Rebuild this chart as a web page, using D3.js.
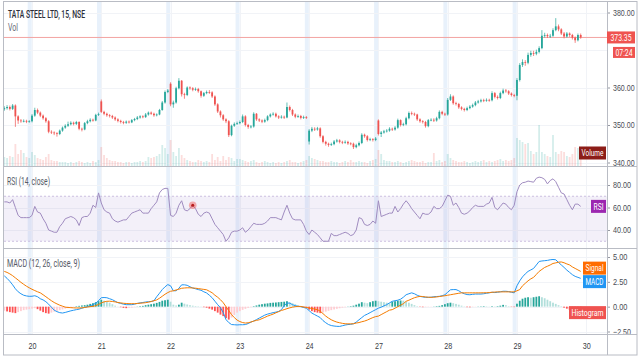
<!DOCTYPE html>
<html><head><meta charset="utf-8">
<script src="https://cdn.jsdelivr.net/npm/d3@7"></script>
<style>
html,body{margin:0;padding:0;background:#fff;}
svg{display:block;font-family:Roboto,"Noto Sans",sans-serif;}
</style></head><body>
<svg id="c" width="640" height="360"></svg>
<script>
const title = "TATA STEEL LTD, 15, NSE";
const dayLabels = ["20","21","22","23","24","27","28","29","30"];
const dayStart = [10,35,60,85,110,135,160,185,210];
const opens = [
354.2,354.5,354.8,354.3,355.2,352.3,351.2,351.0,351.1,350.9,
351.0,352.5,354.0,353.3,352.5,351.8,351.0,348.2,348.0,347.8,
347.6,348.5,349.3,349.8,350.2,350.6,350.3,350.8,349.0,348.8,
350.5,351.0,351.4,351.2,352.7,356.3,353.5,353.0,352.6,352.4,
352.0,351.5,351.1,350.8,350.6,350.9,350.7,351.3,351.6,352.0,
352.3,352.1,352.8,353.3,353.0,352.6,352.8,354.0,356.0,358.8,
361.0,355.5,356.0,359.8,361.8,358.2,358.0,360.0,359.8,359.4,
359.6,359.0,357.8,358.5,358.8,358.7,357.6,355.5,353.6,352.6,
351.5,351.0,347.3,349.8,350.3,350.5,350.8,352.3,350.0,349.5,
349.6,353.0,351.5,351.2,350.9,351.3,352.3,352.8,353.0,352.3,
352.0,352.2,352.0,354.8,354.0,352.8,352.2,352.4,351.9,352.1,
345.6,348.5,349.0,348.8,349.1,347.0,345.5,345.0,344.7,344.9,
345.6,345.9,345.5,345.3,345.5,345.1,345.0,344.1,344.6,345.2,
347.4,347.0,346.0,346.2,346.0,351.2,347.6,348.0,348.3,348.5,
349.0,348.8,349.3,351.3,350.0,350.2,351.8,353.2,353.0,352.8,
351.5,351.0,350.8,349.7,351.3,351.4,351.2,351.8,353.5,353.0,
352.8,356.7,357.6,355.8,355.6,354.7,354.3,354.0,354.5,354.9,
355.3,356.0,356.3,356.6,356.5,356.7,356.6,358.5,357.5,357.2,
358.5,359.2,359.0,358.4,358.0,357.8,362.0,366.0,366.8,366.6,
368.7,369.2,369.0,369.5,370.5,373.8,374.0,373.7,373.8,375.3,
376.3,375.5,374.4,373.6,374.4,374.0,373.3,372.6,374.0];
const highs = [
355.0,355.3,355.2,355.6,355.5,352.6,351.6,351.5,351.4,351.3,
352.9,354.6,354.4,353.6,352.8,352.1,351.3,348.6,348.3,348.1,
348.8,349.6,350.2,350.9,351.0,350.9,351.1,351.0,349.3,350.8,
351.4,351.8,351.7,353.0,353.3,356.8,353.8,353.3,352.9,352.7,
352.3,351.8,351.4,351.1,351.2,351.2,351.6,351.9,352.4,352.6,
352.6,353.2,353.6,353.6,353.3,353.1,354.3,356.4,359.2,359.6,
361.4,356.5,360.2,362.5,362.0,358.6,360.3,360.3,360.1,360.0,
359.9,359.2,358.8,359.2,359.3,359.0,357.9,355.8,353.9,352.9,
351.8,351.3,350.1,350.7,350.9,351.2,352.8,352.6,350.3,350.0,
353.4,353.2,351.8,351.5,351.7,352.6,353.1,353.4,353.3,352.6,
352.6,352.5,356.0,355.2,354.3,353.1,352.8,352.7,352.5,352.4,
348.9,349.5,349.4,349.5,349.4,347.3,345.8,345.3,345.3,346.0,
346.3,346.2,345.8,345.9,345.8,345.4,345.3,345.0,345.6,347.8,
347.7,347.3,346.6,346.5,346.8,351.5,348.4,348.7,348.9,349.4,
349.3,349.7,351.7,351.5,350.6,352.2,353.6,353.6,353.3,353.0,
351.8,351.3,351.1,351.6,351.8,351.8,352.2,353.9,353.8,353.3,
357.2,358.2,357.9,356.2,355.9,355.0,354.6,354.9,355.3,355.7,
356.4,356.7,357.0,357.0,357.1,357.0,359.0,358.8,357.9,358.9,
359.7,359.6,359.3,358.7,358.3,362.5,366.5,367.5,367.3,369.3,
369.8,369.8,370.1,371.0,375.3,374.6,374.4,374.3,375.8,378.5,
376.8,375.8,374.8,374.8,374.7,374.3,373.6,374.4,374.4];
const lows = [
353.8,354.1,353.9,354.0,349.5,350.3,350.6,350.7,350.5,350.6,
350.7,352.2,352.9,352.1,351.4,350.6,347.8,347.6,347.3,346.9,
347.3,348.2,349.0,349.5,349.9,349.9,350.0,348.6,348.3,348.6,
350.2,350.7,350.9,351.0,352.4,353.2,352.6,352.2,352.0,351.6,
351.1,350.7,350.4,350.2,350.3,350.4,350.5,351.0,351.3,351.7,
351.8,351.9,352.5,352.7,352.2,352.3,352.6,353.8,355.7,358.5,
355.0,354.6,355.7,359.5,357.6,357.0,357.7,359.4,359.0,359.1,
358.6,357.3,357.5,358.2,358.3,357.2,355.1,353.2,352.0,351.1,
350.5,346.8,347.0,349.5,350.0,350.2,350.5,349.6,349.0,349.1,
349.3,351.1,350.8,350.5,350.6,351.0,352.0,352.5,352.0,351.6,
351.7,351.6,351.8,353.6,352.4,351.8,351.9,351.5,351.6,351.6,
344.8,348.1,348.4,348.5,346.6,345.1,344.5,344.2,344.4,344.6,
345.3,345.1,344.9,345.0,344.7,344.6,343.6,343.8,344.3,344.9,
346.6,345.6,345.7,345.6,345.7,347.2,346.8,347.7,348.0,348.2,
348.4,348.5,349.0,349.6,349.7,349.9,351.5,352.6,352.4,351.1,
350.6,350.4,349.3,349.4,351.0,350.8,350.9,351.5,352.6,352.4,
352.5,356.4,355.4,355.2,354.3,353.9,353.6,353.7,354.2,354.6,
355.0,355.7,356.0,356.1,356.2,356.2,356.3,357.1,356.8,356.9,
358.2,358.6,358.0,357.6,357.4,356.6,361.6,365.5,365.8,366.2,
368.2,368.4,368.6,369.1,370.2,373.3,373.2,373.2,373.5,375.0,
375.0,374.0,373.1,373.3,373.5,372.8,371.9,372.3,373.0];
const closes = [
354.5,354.8,354.3,355.2,352.3,351.2,351.0,351.1,350.9,351.0,
352.5,354.0,353.3,352.5,351.8,351.0,348.2,348.0,347.8,347.6,
348.5,349.3,349.8,350.2,350.6,350.3,350.8,349.0,348.8,350.5,
351.0,351.4,351.2,352.7,352.9,353.5,353.0,352.6,352.4,352.0,
351.5,351.1,350.8,350.6,350.9,350.7,351.3,351.6,352.0,352.3,
352.1,352.8,353.3,353.0,352.6,352.8,354.0,356.0,358.8,359.2,
355.5,356.0,359.8,361.8,358.2,358.0,360.0,359.8,359.4,359.6,
359.0,357.8,358.5,358.8,358.7,357.6,355.5,353.6,352.6,351.5,
351.0,347.3,349.8,350.3,350.5,350.8,352.3,350.0,349.5,349.6,
353.0,351.5,351.2,350.9,351.3,352.3,352.8,353.0,352.3,352.0,
352.2,352.0,354.8,354.0,352.8,352.2,352.4,351.9,352.1,352.0,
348.5,349.0,348.8,349.1,347.0,345.5,345.0,344.7,344.9,345.6,
345.9,345.5,345.3,345.5,345.1,345.0,344.1,344.6,345.2,347.4,
347.0,346.0,346.2,346.0,346.4,347.6,348.0,348.3,348.5,349.0,
348.8,349.3,351.3,350.0,350.2,351.8,353.2,353.0,352.8,351.5,
351.0,350.8,349.7,351.3,351.4,351.2,351.8,353.5,353.0,352.8,
356.7,357.6,355.8,355.6,354.7,354.3,354.0,354.5,354.9,355.3,
356.0,356.3,356.6,356.5,356.7,356.6,358.5,357.5,357.2,358.5,
359.2,359.0,358.4,358.0,357.8,362.0,366.0,366.8,366.6,368.7,
369.2,369.0,369.5,370.5,373.8,374.0,373.7,373.8,375.3,376.3,
375.5,374.4,373.6,374.4,374.0,373.3,372.6,374.0,373.35];
const volumes = [
9,8,10,9,22,12,16,13,9,8,
14,11,8,7,6,9,12,6,5,5,
4,4,4,3,4,3,4,5,4,3,
4,3,5,4,6,19,11,8,6,5,
5,4,4,3,4,4,3,4,4,5,
4,5,9,8,9,10,12,21,18,12,
26,14,10,18,11,8,6,5,4,4,
6,5,4,5,4,12,6,9,5,10,
6,9,8,5,7,7,6,5,4,5,
6,4,3,4,5,4,3,4,3,4,
3,4,5,6,4,4,3,4,5,6,
10,8,7,6,5,5,4,4,5,4,
4,3,4,5,4,6,4,4,5,4,
4,3,5,6,7,16,12,6,5,5,
4,4,5,4,3,4,5,6,5,4,
4,5,3,4,4,13,5,6,4,5,
12,8,6,5,4,4,5,4,3,4,
5,4,5,6,4,5,4,5,6,7,
5,6,5,6,8,28,26,24,22,23,
15,12,14,41,14,12,10,9,31,14,
12,15,14,10,9,12,19,18,17];
const rsi = [
65,65,64,67,60,53,51,51,51,51,
53,61,56,55,50,46,40,39,38,38,
43,46,50,51,52,51,49,44,51,52,
52,55,62,60,73,64,58,56,55,50,
48,47,48,49,49,52,55,56,57,58,
55,55,55,59,62,65,73,76,77,77,
53,52,55,62,66,58,57,59,62,59,
54,52,55,56,55,50,45,42,39,36,
30,33,38,39,39,40,42,38,40,43,
46,45,45,45,46,48,51,51,51,50,
49,56,62,55,50,49,49,49,45,39,
36,40,38,36,33,30,30,30,37,35,
35,36,37,38,37,35,36,40,51,50,
45,44,45,48,46,66,52,53,54,55,
55,61,56,59,63,66,63,59,56,53,
50,55,54,54,56,61,59,59,61,66,
71,70,62,64,60,55,54,55,57,60,
62,61,61,61,63,64,69,60,58,61,
64,63,60,58,62,74,80,82,82.5,83.5,
83,82.5,86,87,86.5,85,81,84,85.5,83,
78,73,72,67,62,58,63,63,61];
const macd = [
3.1,2.85,2.55,2.2,1.8,1.5,1.3,1.15,1.08,1.04,
1.05,1.1,1.0,0.8,0.68,0.5,0.25,-0.05,-0.35,-0.5,
-0.6,-0.64,-0.58,-0.5,-0.42,-0.36,-0.3,-0.25,-0.15,-0.08,
0.0,0.08,0.2,0.35,0.6,0.9,0.92,0.9,0.8,0.7,
0.55,0.4,0.33,0.25,0.2,0.2,0.2,0.25,0.33,0.38,
0.42,0.47,0.5,0.52,0.6,1.0,1.35,1.72,2.0,2.22,
2.1,1.6,1.6,1.85,2.2,2.2,2.15,2.0,1.88,1.8,
1.72,1.65,1.5,1.38,1.15,0.9,0.55,0.2,-0.1,-0.6,
-1.3,-1.6,-1.8,-1.82,-1.84,-1.82,-1.82,-1.8,-1.7,-1.55,
-1.45,-1.3,-1.15,-1.0,-0.85,-0.75,-0.68,-0.6,-0.55,-0.48,
-0.3,0.1,0.37,0.35,0.2,0.1,0.04,0.0,-0.08,-0.15,
-0.4,-0.65,-0.8,-0.95,-1.1,-1.4,-1.62,-1.8,-1.9,-1.95,
-1.98,-1.99,-1.92,-1.85,-1.8,-1.78,-1.72,-1.55,-1.32,-1.1,
-0.88,-0.75,-0.6,-0.45,-0.3,-0.15,-0.05,0.08,0.2,0.38,
0.54,0.6,0.65,0.75,0.95,1.2,1.3,1.39,1.3,1.15,
1.04,0.98,0.94,0.94,0.95,1.0,1.02,1.04,1.1,1.2,
1.45,1.7,1.72,1.72,1.6,1.42,1.3,1.22,1.2,1.24,
1.27,1.27,1.27,1.3,1.35,1.39,1.45,1.42,1.45,1.5,
1.55,1.55,1.52,1.45,1.39,2.1,2.6,3.0,3.3,3.55,
3.7,3.85,4.2,4.55,4.6,4.63,4.66,4.72,4.75,4.72,
4.45,4.2,3.95,3.68,3.45,3.22,3.05,2.95,2.85];
const signal = [
3.55,3.45,3.3,3.12,2.9,2.68,2.45,2.25,2.06,1.9,
1.75,1.62,1.5,1.39,1.2,1.0,0.8,0.6,0.42,0.28,
0.15,0.05,-0.05,-0.08,-0.1,-0.12,-0.13,-0.13,-0.12,-0.08,
-0.04,0.0,0.03,0.1,0.22,0.38,0.48,0.54,0.55,0.52,
0.48,0.42,0.38,0.34,0.32,0.3,0.3,0.3,0.32,0.35,
0.37,0.4,0.45,0.52,0.6,0.68,0.85,1.05,1.25,1.42,
1.55,1.6,1.68,1.76,1.85,1.88,1.9,1.9,1.88,1.86,
1.82,1.78,1.74,1.7,1.55,1.4,1.15,0.95,0.7,0.4,
0.0,-0.4,-0.8,-1.1,-1.35,-1.5,-1.6,-1.65,-1.62,-1.55,
-1.45,-1.38,-1.32,-1.2,-1.08,-0.95,-0.85,-0.75,-0.62,-0.5,
-0.38,-0.3,-0.2,-0.12,-0.05,0.0,0.03,0.02,-0.03,-0.08,
-0.13,-0.18,-0.25,-0.3,-0.45,-0.7,-0.95,-1.15,-1.32,-1.45,
-1.55,-1.62,-1.68,-1.72,-1.73,-1.73,-1.72,-1.65,-1.6,-1.52,
-1.45,-1.35,-1.22,-1.1,-1.0,-0.95,-0.8,-0.65,-0.5,-0.35,
-0.3,-0.15,0.0,0.15,0.3,0.54,0.65,0.78,0.9,0.98,
1.04,1.02,0.98,0.95,0.94,0.95,0.98,1.02,1.06,1.1,
1.15,1.2,1.25,1.3,1.35,1.39,1.39,1.39,1.39,1.39,
1.39,1.39,1.39,1.4,1.4,1.42,1.45,1.47,1.49,1.49,
1.49,1.49,1.49,1.49,1.49,1.6,1.72,2.1,2.35,2.6,
2.8,2.95,3.25,3.55,3.75,3.95,4.07,4.2,4.35,4.41,
4.48,4.5,4.42,4.3,4.2,4.0,3.85,3.7,3.55];
const histogram = [
-0.4,-0.48,-0.55,-0.6,-0.65,-0.55,-0.45,-0.35,-0.3,-0.25,
-0.2,-0.15,-0.25,-0.4,-0.55,-0.65,-0.7,-0.6,-0.5,-0.42,
-0.35,-0.28,-0.2,-0.15,-0.1,-0.05,0.05,0.08,0.12,0.15,
0.2,0.28,0.35,0.45,0.55,0.7,0.6,0.5,0.4,0.25,
0.1,0.02,-0.05,-0.12,-0.15,-0.12,-0.1,-0.05,0.02,0.05,
0.08,0.15,0.2,0.25,0.3,0.38,0.48,0.6,0.65,0.7,
0.5,0.2,0.12,0.2,0.4,0.3,0.22,0.15,0.1,0.06,
0.04,0.02,-0.05,-0.1,-0.2,-0.3,-0.45,-0.6,-0.8,-0.95,
-1.15,-1.3,-1.1,-0.85,-0.6,-0.45,-0.32,-0.22,-0.12,-0.05,
0.05,0.12,0.2,0.25,0.3,0.33,0.38,0.4,0.42,0.45,
0.48,0.5,0.55,0.45,0.35,0.25,0.12,0.03,-0.08,-0.15,
-0.3,-0.45,-0.55,-0.6,-0.65,-0.58,-0.5,-0.42,-0.35,-0.28,
-0.22,-0.16,-0.1,-0.06,0.02,0.05,0.1,0.2,0.3,0.45,
0.4,0.35,0.45,0.55,0.6,0.55,0.5,0.45,0.4,0.35,
0.5,0.55,0.6,0.62,0.6,0.5,0.4,0.28,0.15,0.05,
-0.03,-0.05,-0.04,-0.03,-0.02,0.02,0.05,0.08,0.15,0.25,
0.35,0.4,0.35,0.28,0.2,0.1,0.03,-0.05,-0.06,-0.04,
-0.02,0.02,0.03,0.05,0.04,0.02,0.05,0.03,0.05,0.1,
0.18,0.15,0.05,-0.03,-0.05,0.3,0.6,0.8,0.9,0.95,
0.9,0.95,1.0,1.05,0.95,0.85,0.7,0.55,0.4,0.28,
0.15,0.05,-0.1,-0.2,-0.3,-0.4,-0.5,-0.55,-0.6];
const priceTicks = [340,350,360,370,380];
const priceLabelTicks = [340,350,360,380];
const rsiTicks = [40,60,80];
const rsiBandLevels = [70,30];
const macdTicks = [-2.5,0,2.5,5];
const lastPrice = 373.35;
const countdown = "07:24";
const rsiMarkerIndex = 68;

const svg = d3.select("#c");
const plotL = 4, plotR = 607, frameR = 637, frameB = 355;
const panes = {price:[2,166], rsi:[167,248], macd:[249,334]};
const n = closes.length;
const x = d3.scaleLinear().domain([0, n-1]).range([4.3, 580.7]);
const yP = d3.scaleLinear().domain([340,380]).range([162.5,12.5]);
const yV = d3.scaleLinear().domain([0, d3.max(volumes)]).range([166, 125]);
const yR = d3.scaleLinear().domain([40,80]).range([230,185]);
const yM = d3.scaleLinear().domain([-2.5,5]).range([331.5,257]);
const PX_PER_CHAR = 3.6;

const defs = svg.append("defs");
Object.entries(panes).forEach(([k,[t,b]])=>{
  defs.append("clipPath").attr("id","clip-"+k).append("rect")
    .attr("x",plotL).attr("y",t).attr("width",plotR-plotL).attr("height",b-t);
  defs.append("clipPath").attr("id","clipax-"+k).append("rect")
    .attr("x",plotR).attr("y",t).attr("width",frameR-plotR).attr("height",b-t+1);
});

// session break bands
svg.append("g").selectAll("rect").data(dayStart.filter(d=>d<n)).join("rect")
  .attr("x",d=>x(d)-4.3).attr("y",2).attr("width",4).attr("height",332)
  .attr("fill","#e8f1fb");

// grid
const grid = svg.append("g").attr("stroke","#f1f3f7").attr("stroke-width",1);
grid.selectAll(".gp").data(priceTicks).join("line").attr("x1",plotL).attr("x2",plotR)
  .attr("y1",d=>Math.round(yP(d))+0.5).attr("y2",d=>Math.round(yP(d))+0.5);
grid.selectAll(".gr").data(rsiTicks).join("line").attr("x1",plotL).attr("x2",plotR)
  .attr("y1",d=>Math.round(yR(d))+0.5).attr("y2",d=>Math.round(yR(d))+0.5);
grid.selectAll(".gm").data(macdTicks).join("line").attr("x1",plotL).attr("x2",plotR)
  .attr("y1",d=>Math.round(yM(d))+0.5).attr("y2",d=>Math.round(yM(d))+0.5);
grid.selectAll(".gv").data(dayStart).join("line")
  .attr("x1",d=>Math.round(x(d))+0.5).attr("x2",d=>Math.round(x(d))+0.5).attr("y1",2).attr("y2",334);

// ---- price pane
const gP = svg.append("g").attr("clip-path","url(#clip-price)");
const idx = d3.range(n);
gP.append("g").selectAll("rect").data(idx).join("rect")
  .attr("x",i=>x(i)-0.9).attr("width",1.8)
  .attr("y",i=>yV(volumes[i])).attr("height",i=>yV(0)-yV(volumes[i]))
  .attr("fill",i=>closes[i]>=opens[i]?"rgba(38,166,154,0.2)":"rgba(239,83,80,0.2)");
gP.append("line").attr("x1",plotL).attr("x2",plotR)
  .attr("y1",yP(lastPrice)).attr("y2",yP(lastPrice)).attr("stroke","#f3a3a1").attr("stroke-width",1);
const up = "#26a69a", dn = "#ef5350";
gP.append("g").selectAll("line").data(idx).join("line")
  .attr("x1",i=>x(i)).attr("x2",i=>x(i)).attr("y1",i=>yP(highs[i])).attr("y2",i=>yP(lows[i]))
  .attr("stroke",i=>closes[i]>=opens[i]?up:dn).attr("stroke-width",0.7);
gP.append("g").selectAll("rect").data(idx).join("rect")
  .attr("x",i=>x(i)-0.9).attr("width",1.8)
  .attr("y",i=>yP(Math.max(opens[i],closes[i])))
  .attr("height",i=>Math.max(0.8,Math.abs(yP(opens[i])-yP(closes[i]))))
  .attr("fill",i=>closes[i]>=opens[i]?up:dn);

// ---- RSI pane
const gR = svg.append("g").attr("clip-path","url(#clip-rsi)");
gR.append("rect").attr("x",plotL).attr("width",plotR-plotL)
  .attr("y",yR(rsiBandLevels[0])).attr("height",yR(rsiBandLevels[1])-yR(rsiBandLevels[0]))
  .attr("fill","rgba(126,87,194,0.09)");
gR.selectAll(".bl").data(rsiBandLevels).join("line").attr("x1",plotL).attr("x2",plotR)
  .attr("y1",d=>yR(d)).attr("y2",d=>yR(d)).attr("stroke","#cbbfe0").attr("stroke-dasharray","2,2");
gR.append("path").datum(idx).attr("fill","none").attr("stroke","#a08cc0").attr("stroke-width",1)
  .attr("d",d3.line().x(i=>x(i)).y(i=>yR(rsi[i])));
gR.append("circle").attr("cx",x(rsiMarkerIndex)).attr("cy",yR(rsi[rsiMarkerIndex])).attr("r",3.8)
  .attr("fill","rgba(239,83,80,0.45)");
gR.append("circle").attr("cx",x(rsiMarkerIndex)).attr("cy",yR(rsi[rsiMarkerIndex])).attr("r",1.5)
  .attr("fill","#b71c1c");

// ---- MACD pane
const gM = svg.append("g").attr("clip-path","url(#clip-macd)");
function histColor(i){
  const v = histogram[i], p = i>0 ? histogram[i-1] : v;
  if (v >= 0) return v > p ? "#26a69a" : "#b2dfdb";
  return v < p ? "#ff5252" : "#ffcdd2";
}
gM.append("g").selectAll("rect").data(idx).join("rect")
  .attr("x",i=>x(i)-0.9).attr("width",1.8)
  .attr("y",i=>Math.min(yM(0),yM(histogram[i])))
  .attr("height",i=>Math.abs(yM(histogram[i])-yM(0)))
  .attr("fill",histColor);
gM.append("path").datum(idx).attr("fill","none").attr("stroke","#2196f3").attr("stroke-width",1)
  .attr("d",d3.line().x(i=>x(i)).y(i=>yM(macd[i])));
gM.append("path").datum(idx).attr("fill","none").attr("stroke","#f57c00").attr("stroke-width",1)
  .attr("d",d3.line().x(i=>x(i)).y(i=>yM(signal[i])));

// ---- axes
function fit(sel, k){ sel.each(function(){ const t=this.textContent; d3.select(this)
  .attr("textLength", t.length*k).attr("lengthAdjust","spacingAndGlyphs"); }); }
function styleAxis(g){
  g.select(".domain").remove();
  g.selectAll(".tick line").attr("stroke","#9598a1");
  g.selectAll(".tick text").attr("fill","#4a4d55").style("font-size","9px").call(fit, PX_PER_CHAR);
}
function rightAxis(scale, ticks, pane){
  svg.append("g").attr("clip-path",`url(#clipax-${pane})`)
    .append("g").attr("transform",`translate(${plotR},0)`)
    .call(d3.axisRight(scale).tickValues(ticks).tickFormat(d3.format(".2f")).tickSize(3).tickPadding(3))
    .call(styleAxis);
}
rightAxis(yP, priceLabelTicks, "price");
rightAxis(yR, rsiTicks, "rsi");
rightAxis(yM, macdTicks, "macd");
svg.append("g").attr("transform","translate(0,334)")
  .call(d3.axisBottom(x).tickValues(dayStart).tickFormat((d,i)=>dayLabels[i]).tickSize(0).tickPadding(9))
  .call(g=>{g.select(".domain").remove();
    g.selectAll("text").attr("fill","#3a3d45").style("font-size","9px").call(fit, 4);});

// ---- frame and separators
const frame = svg.append("g").attr("stroke","#b9bcc4").attr("stroke-width",1).attr("fill","none");
frame.append("rect").attr("x",3.5).attr("y",1.5).attr("width",frameR-3.5).attr("height",frameB-1.5);
[166.5,248.5,334.5].forEach(yy=>frame.append("line").attr("x1",3.5).attr("x2",frameR).attr("y1",yy).attr("y2",yy));
frame.append("line").attr("x1",plotR+0.5).attr("x2",plotR+0.5).attr("y1",1.5).attr("y2",frameB);

// ---- labels / badges
function badge(right, cy, w, h, fill, txt, tw){
  svg.append("rect").attr("x",right-w).attr("y",cy-h/2).attr("width",w).attr("height",h).attr("fill",fill);
  svg.append("text").attr("x",right-w/2).attr("y",cy).attr("dy","0.35em").attr("text-anchor","middle")
    .attr("fill","#fff").style("font-size","9px").attr("textLength",tw).attr("lengthAdjust","spacingAndGlyphs").text(txt);
}
badge(635, yP(lastPrice), 28, 12, "#ef5350", d3.format(".2f")(lastPrice), 21);
badge(635, yP(lastPrice)+15, 22, 11, "#ef5350", countdown, 17);
badge(606, yV(volumes[n-1])+4, 27, 13, "#8c1d18", "Volume", 22);
badge(606, yR(rsi[n-1]), 15, 13, "#9c27b0", "RSI", 10);
let ySig = yM(signal[n-1]), yMac = yM(macd[n-1]);
if (Math.abs(ySig-yMac) < 13.5){ const mid=(ySig+yMac)/2; const s = ySig<yMac?-1:1; ySig=mid+s*6.75; yMac=mid-s*6.75; }
badge(606, ySig, 23, 13, "#ff6d00", "Signal", 18);
badge(606, yMac, 23, 13, "#2196f3", "MACD", 18);
badge(606, yM(histogram[n-1]), 37, 13, "#ef5350", "Histogram", 32);

const tf = svg.append("g");
tf.append("text").attr("x",8).attr("y",18).attr("fill","#2a2e39").style("font-size","10px").style("font-weight","500")
  .attr("textLength",77).attr("lengthAdjust","spacingAndGlyphs").text(title);
tf.append("text").attr("x",8).attr("y",31).attr("fill","#6a6d78").style("font-size","10px")
  .attr("textLength",10).attr("lengthAdjust","spacingAndGlyphs").text("Vol");
tf.append("text").attr("x",7).attr("y",185).attr("fill","#555a66").style("font-size","10px")
  .attr("textLength",43).attr("lengthAdjust","spacingAndGlyphs").text("RSI (14, close)");
tf.append("text").attr("x",7).attr("y",267).attr("fill","#555a66").style("font-size","10px")
  .attr("textLength",73).attr("lengthAdjust","spacingAndGlyphs").text("MACD (12, 26, close, 9)");
</script>
</body></html>
